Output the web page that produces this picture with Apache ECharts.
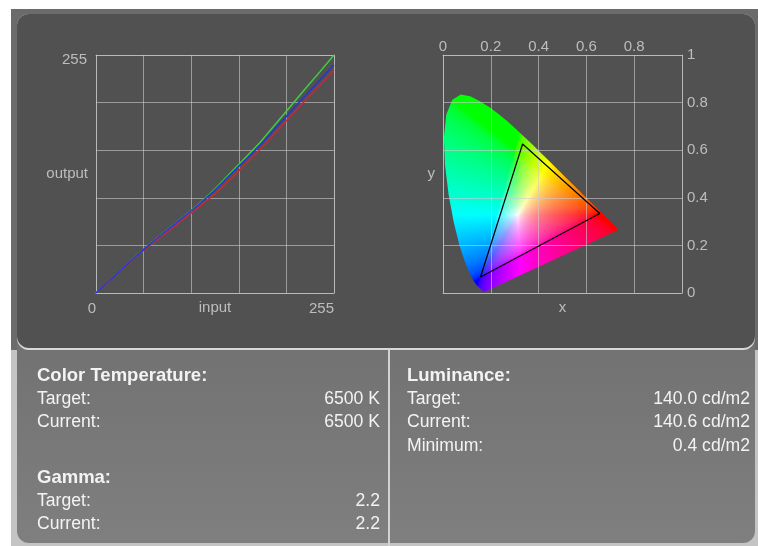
<!DOCTYPE html>
<html>
<head>
<meta charset="utf-8">
<script src="https://cdn.jsdelivr.net/npm/echarts@6/dist/echarts.min.js"></script>
<style>
  html, body { margin: 0; padding: 0; background: #fff; }
  #main { width: 758px; height: 546px; }
</style>
</head>
<body>
<div id="main"></div>
<script>
// gradation curves (input level -> measured output)
var inputLevels = [0, 16, 32, 48, 64, 80, 96, 112, 128, 144, 160, 176, 192, 208, 224, 240, 255]
var greenOut = [0, 14.8, 29.5, 44.2, 57.8, 70.6, 83.6, 97, 112, 128.5, 144.8, 161.5, 180.5, 199.5, 218.5, 237.2, 255]
var blueOut = [0, 14.8, 29.5, 44, 57.6, 70.4, 83.3, 96.4, 110.8, 127, 142.6, 158.6, 176.2, 193.6, 211, 228.3, 244.5]
var redOut = [0, 14.6, 29, 43.6, 56, 68.2, 81, 93.6, 106.8, 122, 138, 154, 171.5, 189, 206, 222.5, 239]
var levelTickLabels = ['0', '255']

// CIE 1931 spectral locus, 380 -> 700 nm
var spectralLocus = [
  [0.1741, 0.0050], [0.1738, 0.0049], [0.1733, 0.0048], [0.1726, 0.0048], [0.1714, 0.0051],
  [0.1689, 0.0069], [0.1644, 0.0109], [0.1566, 0.0177], [0.1510, 0.0227], [0.1440, 0.0297],
  [0.1355, 0.0399], [0.1241, 0.0578], [0.1096, 0.0868], [0.0913, 0.1327], [0.0687, 0.2007],
  [0.0454, 0.2950], [0.0235, 0.4127], [0.0082, 0.5384], [0.0039, 0.6548], [0.0139, 0.7502],
  [0.0389, 0.8120], [0.0743, 0.8338], [0.1142, 0.8262], [0.1547, 0.8059], [0.1929, 0.7816],
  [0.2296, 0.7543], [0.2658, 0.7243], [0.3016, 0.6923], [0.3373, 0.6589], [0.3731, 0.6245],
  [0.4087, 0.5896], [0.4441, 0.5547], [0.4788, 0.5202], [0.5125, 0.4866], [0.5448, 0.4544],
  [0.5752, 0.4242], [0.6029, 0.3965], [0.6270, 0.3725], [0.6482, 0.3514], [0.6658, 0.3340],
  [0.6801, 0.3197], [0.6915, 0.3083], [0.7006, 0.2993], [0.7079, 0.2920], [0.7140, 0.2859],
  [0.7190, 0.2809], [0.7260, 0.2740], [0.7300, 0.2700], [0.7320, 0.2680], [0.7347, 0.2653]
]
// measured display gamut (R, G, B, back to R)
var gamutTriangle = [[0.656, 0.334], [0.333, 0.626], [0.157, 0.067], [0.656, 0.334]]

var colorTempRows = [['Target:', '6500 K'], ['Current:', '6500 K']]
var gammaRows = [['Target:', '2.2'], ['Current:', '2.2']]
var luminanceRows = [['Target:', '140.0 cd/m2'], ['Current:', '140.6 cd/m2'], ['Minimum:', '0.4 cd/m2']]

var FONT = '"Liberation Sans", Arial, sans-serif'
var gridColor = 'rgba(205,205,205,0.6)'
var labelColor = '#bdbdbd'
var textColor = '#f3f3f3'

function pairs(xs, ys) {
  return xs.map(function (x, i) { return [x, ys[i]] })
}

// paint the chromaticity colours once on an offscreen canvas
function xyToRgb(x, y) {
  if (y < 0.0005) y = 0.0005
  var X = x / y, Y = 1, Z = (1 - x - y) / y
  var r = 3.2406 * X - 1.5372 * Y - 0.4986 * Z
  var g = -0.9689 * X + 1.8758 * Y + 0.0415 * Z
  var b = 0.0557 * X - 0.2040 * Y + 1.0570 * Z
  r = Math.max(r, 0); g = Math.max(g, 0); b = Math.max(b, 0)
  var m = Math.max(r, g, b) || 1
  var c = [r / m, g / m, b / m]
  // push the whites a little towards saturation
  var lo = Math.min(c[0], c[1], c[2]) * 0.5
  return c.map(function (v) {
    v = (v - lo) / (1 - lo)
    v = v <= 0.0031308 ? 12.92 * v : 1.055 * Math.pow(v, 1 / 2.4) - 0.055
    return Math.round(v * 255)
  })
}

function makeGamutCanvas(n) {
  var cv = document.createElement('canvas')
  cv.width = n
  cv.height = n
  var ctx = cv.getContext('2d')
  var img = ctx.createImageData(n, n)
  for (var j = 0; j < n; j++) {
    for (var i = 0; i < n; i++) {
      var c = xyToRgb((i + 0.5) / n, 1 - (j + 0.5) / n)
      var k = (j * n + i) * 4
      img.data[k] = c[0]
      img.data[k + 1] = c[1]
      img.data[k + 2] = c[2]
      img.data[k + 3] = 255
    }
  }
  ctx.putImageData(img, 0, 0)
  return cv
}
var gamutCanvas = makeGamutCanvas(256)

function textEl(str, x, y, bold, align) {
  return {
    type: 'text', z: 10,
    style: {
      text: str, x: x, y: y, fill: textColor,
      font: (bold ? 'bold 18.5px ' : '17.6px ') + FONT,
      align: align || 'left', verticalAlign: 'middle',
      textAlign: align || 'left', textVerticalAlign: 'middle'
    }
  }
}

function infoBlock(title, rows, left, right, y0, ys) {
  var els = [textEl(title, left, y0, true)]
  rows.forEach(function (row, i) {
    els.push(textEl(row[0], left, ys[i], false))
    els.push(textEl(row[1], right, ys[i], false, 'right'))
  })
  return els
}

var panels = [
  { type: 'rect', z: -10, shape: { x: 11, y: 9, width: 747, height: 537 }, style: { fill: '#6b6b6b' } },
  { type: 'rect', z: -10, shape: { x: 11, y: 350, width: 747, height: 196 }, style: { fill: '#c4c4c4' } },
  {
    type: 'rect', z: -9, shape: { x: 17, y: 330, width: 738, height: 213, r: [0, 0, 12, 12] },
    style: {
      fill: { type: 'linear', x: 0, y: 0, x2: 0, y2: 1, colorStops: [
        { offset: 0, color: '#717171' }, { offset: 1, color: '#7f7f7f' }] }
    }
  },
  { type: 'rect', z: -8, shape: { x: 17, y: 14, width: 738, height: 336, r: 12 }, style: { fill: '#d8d8d8' } },
  { type: 'rect', z: -7, shape: { x: 17, y: 14, width: 738, height: 334, r: 12 }, style: { fill: '#515151' } },
  { type: 'rect', z: -6, shape: { x: 388, y: 350, width: 2, height: 196 }, style: { fill: '#d2d2d2' } }
]

var texts = []
  .concat(infoBlock('Color Temperature:', colorTempRows, 37, 380, 376, [399.5, 422.5]))
  .concat(infoBlock('Gamma:', gammaRows, 37, 380, 478, [501.5, 524.5]))
  .concat(infoBlock('Luminance:', luminanceRows, 407, 750, 375.5, [399.5, 422.5, 446]))

var chart = echarts.init(document.getElementById('main'))

var axisBase = {
  type: 'value',
  nameMoveOverlap: false,
  axisLine: { show: true, onZero: false, lineStyle: { color: gridColor, width: 1 } },
  axisTick: { show: false },
  splitLine: { show: true, lineStyle: { color: gridColor, width: 1 } },
  axisLabel: { show: false },
  nameTextStyle: { color: labelColor, fontSize: 15, fontFamily: FONT }
}
function ax(extra) {
  return echarts.util.merge(echarts.util.clone(axisBase), extra, true)
}

var option = {
  animation: false,
  textStyle: { fontFamily: FONT },
  grid: [
    { left: 96, top: 55, width: 238, height: 238, outerBoundsMode: 'none' },
    { left: 443, top: 55, width: 239, height: 238, outerBoundsMode: 'none' }
  ],
  graphic: panels.concat(texts),
  xAxis: [
    ax({
      gridIndex: 0, min: 0, max: 255, interval: 51, position: 'bottom',
      name: 'input', nameLocation: 'middle', nameGap: 7,
      nameTextStyle: { verticalAlign: 'top' },
      axisLabel: {
        show: true, color: labelColor, fontSize: 15, margin: 8,
        alignMinLabel: 'right', alignMaxLabel: 'right',
        formatter: function (v) { return v === 0 ? levelTickLabels[0] : v === 255 ? levelTickLabels[1] : '' }
      }
    }),
    ax({ gridIndex: 0, min: 0, max: 255, interval: 51, position: 'top', splitLine: { show: false } }),
    ax({
      gridIndex: 1, min: 0, max: 1, interval: 0.2, position: 'top', z: 3,
      axisLabel: {
        show: true, color: labelColor, fontSize: 15, margin: 1,
        formatter: function (v) { return v >= 1 ? '' : String(Math.round(v * 10) / 10) }
      }
    }),
    ax({
      gridIndex: 1, min: 0, max: 1, interval: 0.2, position: 'bottom', z: 3, splitLine: { show: false },
      name: 'x', nameLocation: 'middle', nameGap: 7, nameTextStyle: { verticalAlign: 'top' }
    })
  ],
  yAxis: [
    ax({
      gridIndex: 0, min: 0, max: 255, interval: 51, position: 'left',
      name: 'output', nameLocation: 'middle', nameRotate: 0, nameGap: 8,
      nameTextStyle: { align: 'right' },
      axisLabel: {
        show: true, color: labelColor, fontSize: 15, margin: 9, verticalAlign: 'top', lineHeight: 10,
        formatter: function (v) { return v === 255 ? levelTickLabels[1] : '' }
      }
    }),
    ax({ gridIndex: 0, min: 0, max: 255, interval: 51, position: 'right', splitLine: { show: false } }),
    ax({
      gridIndex: 1, min: 0, max: 1, interval: 0.2, position: 'right', z: 3,
      axisLabel: {
        show: true, color: labelColor, fontSize: 15, margin: 5,
        formatter: function (v) { return String(Math.round(v * 10) / 10) }
      }
    }),
    ax({
      gridIndex: 1, min: 0, max: 1, interval: 0.2, position: 'left', z: 3, splitLine: { show: false },
      name: 'y', nameLocation: 'middle', nameRotate: 0, nameGap: 8, nameTextStyle: { align: 'right' }
    })
  ],
  series: [
    {
      type: 'line', xAxisIndex: 0, yAxisIndex: 0, data: pairs(inputLevels, greenOut),
      symbol: 'none', silent: true, lineStyle: { color: '#3fcf3f', width: 1.5 }
    },
    {
      type: 'line', xAxisIndex: 0, yAxisIndex: 0, data: pairs(inputLevels, redOut),
      symbol: 'none', silent: true, lineStyle: { color: '#c22a3c', width: 1.5 }
    },
    {
      type: 'line', xAxisIndex: 0, yAxisIndex: 0, data: pairs(inputLevels, blueOut),
      symbol: 'none', silent: true, lineStyle: { color: '#2636d4', width: 1.5 }
    },
    {
      // chromaticity horseshoe, clipped to the spectral locus
      type: 'custom', xAxisIndex: 2, yAxisIndex: 2, coordinateSystem: 'cartesian2d',
      data: [[0, 0]], silent: true, z: 1, clip: false,
      renderItem: function (params, api) {
        var p0 = api.coord([0, 1])
        var p1 = api.coord([1, 0])
        var pts = spectralLocus.map(function (p) { return api.coord(p) })
        return {
          type: 'image',
          style: { image: gamutCanvas, x: p0[0], y: p0[1], width: p1[0] - p0[0], height: p1[1] - p0[1] },
          clipPath: { type: 'polygon', shape: { points: pts } }
        }
      }
    },
    {
      type: 'line', xAxisIndex: 2, yAxisIndex: 2, data: gamutTriangle, z: 5,
      symbol: 'none', silent: true, lineStyle: { color: '#000', width: 1.2 }
    }
  ]
}

chart.setOption(option)
</script>
</body>
</html>
